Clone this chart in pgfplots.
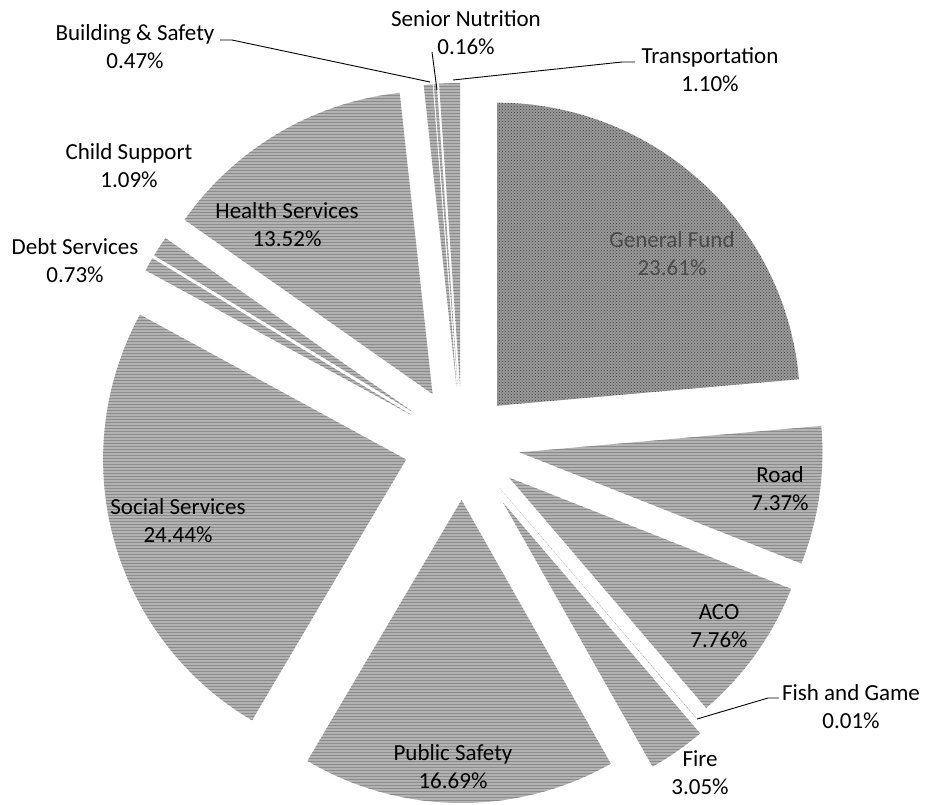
\documentclass[border=0pt]{standalone}
\usepackage{pgfplots}
\pgfplotsset{compat=1.18}
\usepackage{fontspec}
\setmainfont{Carlito}
\usetikzlibrary{patterns}
\def\cx{462}
\def\cy{444}
\def\R{303}
% start (cumulative %), value (%), explode (px), style
\newcommand{\slice}[4]{%
  \pgfmathsetmacro{\aS}{90-3.6*#1}%
  \pgfmathsetmacro{\aE}{90-3.6*(#1+#2)}%
  \pgfmathsetmacro{\aM}{(\aS+\aE)/2}%
  \pgfmathsetmacro{\ax}{\cx+#3*cos(\aM)}%
  \pgfmathsetmacro{\ay}{\cy-#3*sin(\aM)}%
  \addplot[#4, draw=none, samples at={-1,0,1,...,60}, variable=\t]
    ({\ax + (\t>=0)*\R*cos(\aS+\t/60*(\aE-\aS))},
     {\ay - (\t>=0)*\R*sin(\aS+\t/60*(\aE-\aS))});
}
\tikzset{
  gf/.style={fill=black!40, postaction={pattern=crosshatch dots, pattern color=black!75}},
  sl/.style={fill=black!30, postaction={pattern=horizontal lines, pattern color=black!45}},
  lab/.style={font=\fontsize{23}{28}\selectfont, align=center, inner sep=0pt},
}
\begin{document}
\begin{tikzpicture}
\begin{axis}[width=925pt, height=804pt, scale only axis,
  xmin=0, xmax=925, ymin=0, ymax=804, y dir=reverse,
  axis lines=none, clip=false]
\slice{0}{23.61}{52}{gf}
\slice{23.61}{7.37}{58}{sl}
\slice{30.98}{7.76}{58}{sl}
\slice{38.74}{0.01}{58}{sl}
\slice{38.75}{3.05}{72}{sl}
\slice{41.80}{16.69}{56}{sl}
\slice{58.49}{24.44}{58}{sl}
\slice{82.93}{0.73}{58}{sl}
\slice{83.66}{1.09}{58}{sl}
\slice{84.75}{13.52}{58}{sl}
\slice{98.27}{0.47}{58}{sl}
\slice{98.74}{0.16}{58}{sl}
\slice{98.90}{1.10}{58}{sl}
% leader lines
\addplot[black, line width=0.9pt] coordinates {(220,40) (232,40) (430,82)};
\addplot[black, line width=0.9pt] coordinates {(432,52) (437,90)};
\addplot[black, line width=0.9pt] coordinates {(453,80) (622,62) (635,62)};
\addplot[black, line width=0.9pt] coordinates {(697,719) (768,698) (779,698)};
% labels
\node[lab, text=black!70] at (axis cs:672,254) {General Fund\\23.61\%};
\node[lab] at (axis cs:780,489) {Road\\7.37\%};
\node[lab] at (axis cs:719,626) {ACO\\7.76\%};
\node[lab] at (axis cs:851,707) {Fish and Game\\0.01\%};
\node[lab] at (axis cs:700,773) {Fire\\3.05\%};
\node[lab] at (axis cs:453,767) {Public Safety\\16.69\%};
\node[lab] at (axis cs:178,521) {Social Services\\24.44\%};
\node[lab] at (axis cs:75,261) {Debt Services\\0.73\%};
\node[lab] at (axis cs:129,166) {Child Support\\1.09\%};
\node[lab] at (axis cs:287,225) {Health Services\\13.52\%};
\node[lab] at (axis cs:135,47) {Building \& Safety\\0.47\%};
\node[lab] at (axis cs:466,33) {Senior Nutrition\\0.16\%};
\node[lab] at (axis cs:710,70) {Transportation\\1.10\%};
\end{axis}
\pgfresetboundingbox
\path[use as bounding box] (current axis.south west) rectangle (current axis.north east);
\end{tikzpicture}
\end{document}
